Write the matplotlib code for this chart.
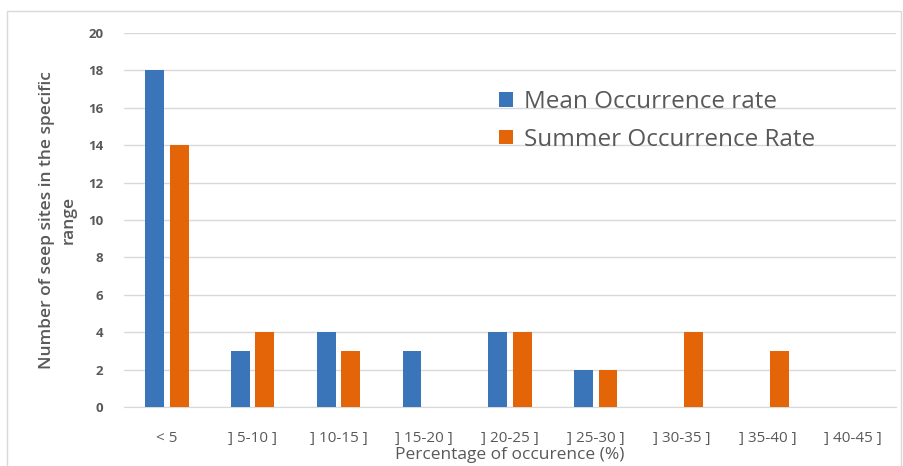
import matplotlib.pyplot as plt
import numpy as np
from matplotlib.patches import Rectangle

categories = ["< 5", "] 5-10 ]", "] 10-15 ]", "] 15-20 ]", "] 20-25 ]",
              "] 25-30 ]", "] 30-35 ]", "] 35-40 ]", "] 40-45 ]"]
mean_rate = [18, 3, 4, 3, 4, 2, 0, 0, 0]
summer_rate = [14, 4, 3, 0, 4, 2, 4, 3, 0]

blue = "#3b75b9"
orange = "#e46508"
gray = "#595959"

plt.rcParams["font.family"] = ["Open Sans", "DejaVu Sans"]

fig = plt.figure(figsize=(9.04, 4.66), dpi=100)
ax = fig.add_axes([124 / 904, 1 - 407 / 466, 772 / 904, 374 / 466])

x = np.arange(len(categories))
w = 0.22
off = 0.143
ax.bar(x - off, mean_rate, width=w, color=blue, label="Mean Occurrence rate", zorder=3)
ax.bar(x + off, summer_rate, width=w, color=orange, label="Summer Occurrence Rate", zorder=3)

ax.set_xlim(-0.5, len(categories) - 0.5)
ax.set_ylim(0, 20)
ax.set_yticks(range(0, 21, 2))
ax.grid(axis="y", color="#d9d9d9", linewidth=1, zorder=0)
for s in ["top", "right", "left"]:
    ax.spines[s].set_visible(False)
ax.spines["bottom"].set_color("#d9d9d9")
ax.tick_params(axis="both", length=0)
ax.tick_params(axis="y", pad=15, labelsize=9.5, labelcolor=gray)
for lab in ax.get_yticklabels():
    lab.set_fontweight("bold")
ax.set_xticks(x)
ax.set_xticklabels(categories, fontsize=11, color=gray)
ax.tick_params(axis="x", pad=17)

ax.set_xlabel("Percentage of occurence (%)", fontsize=12.5, color=gray, labelpad=1)
ax.set_ylabel("Number of seep sites in the specific\nrange", fontsize=12.5,
              color=gray, fontweight="semibold", labelpad=8, linespacing=1.5,
              multialignment="center")

ax.legend(loc="upper left", bbox_to_anchor=(0.458, 0.905), frameon=False,
          fontsize=17.5, labelcolor=gray, handlelength=0.55, handleheight=0.55,
          handletextpad=0.45, labelspacing=0.55)

fig.patches.append(Rectangle((7 / 904, -0.1), 894 / 904, 1.1 - 11 / 466,
                             transform=fig.transFigure, fill=False,
                             edgecolor="#d9d9d9", linewidth=1))

fig.savefig("out.png", dpi=100)
